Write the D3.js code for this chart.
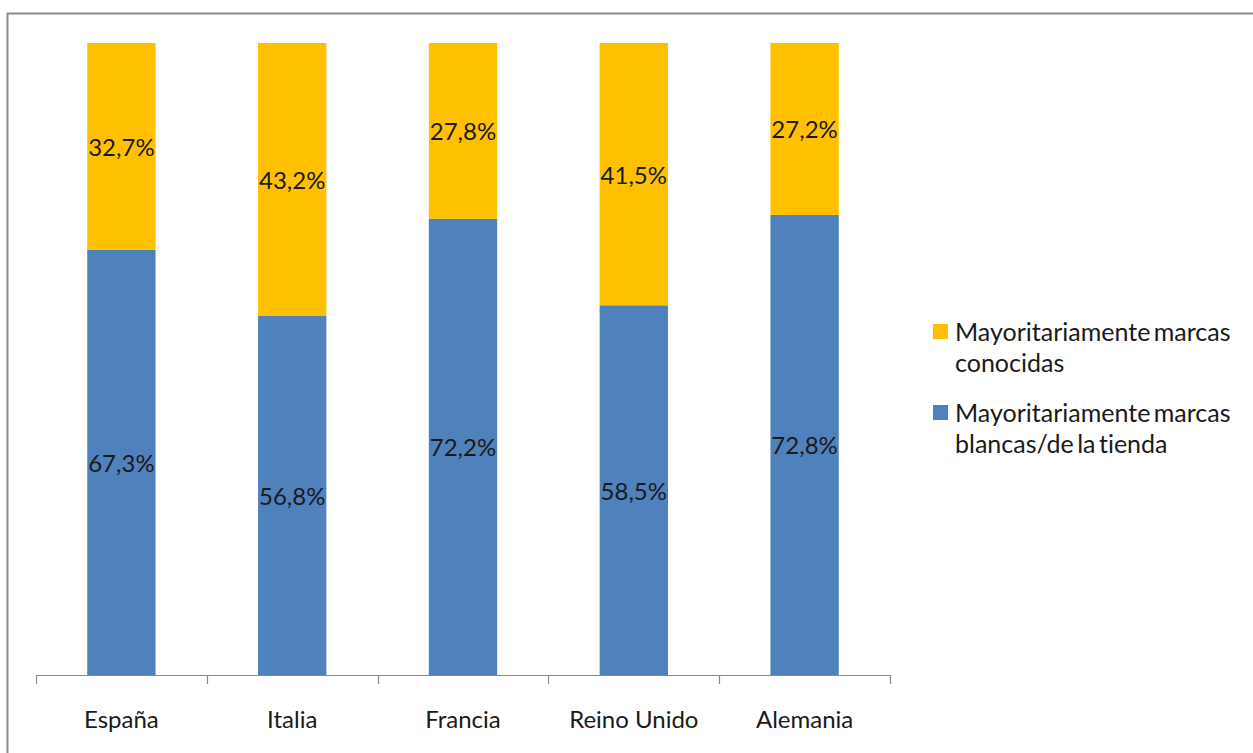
<!DOCTYPE html>
<html>
<head>
<meta charset="utf-8">
<script src="https://cdn.jsdelivr.net/npm/d3@7"></script>
<style>
  html, body { margin: 0; padding: 0; background: #fff; }
  svg { display: block; }
  text { font-family: Lato, "Open Sans", sans-serif; fill: #1a1a1a; font-variant-ligatures: none; }
</style>
</head>
<body>
<svg id="chart" width="1253" height="753"></svg>
<script>
// Share of shoppers by country, stacked to 100%
const countries = ["España", "Italia", "Francia", "Reino Unido", "Alemania"];
const blancas   = [67.3, 56.8, 72.2, 58.5, 72.8];   // store / private labels
const conocidas = [32.7, 43.2, 27.8, 41.5, 27.2];   // known brands
const legendLines = [
  ["Mayoritariamente marcas", "conocidas"],
  ["Mayoritariamente marcas", "blancas/de la tienda"]
];
const colors = { blancas: "#4f81bd", conocidas: "#ffc000" };

const svg = d3.select("#chart");

// outer frame (only top and left edges fall inside the canvas)
svg.append("rect")
  .attr("x", 7.5).attr("y", 13.5)
  .attr("width", 1300).attr("height", 800)
  .attr("fill", "none").attr("stroke", "#8a8a8a").attr("stroke-width", 2);

const plot = { left: 36, right: 890, top: 43, bottom: 675 };

const x = d3.scaleBand().domain(countries)
  .range([plot.left, plot.right]).paddingInner(0.6).paddingOuter(0.3);
const y = d3.scaleLinear().domain([0, 100]).range([plot.bottom, plot.top]);

const rows = countries.map((c, i) => ({ country: c, blancas: blancas[i], conocidas: conocidas[i] }));
const stack = d3.stack().keys(["blancas", "conocidas"]);
const layers = stack(rows);

const fmt = v => v.toFixed(1).replace(".", ",") + "%";

layers.forEach(layer => {
  const g = svg.append("g");
  g.selectAll("rect").data(layer).join("rect")
    .attr("x", d => x(d.data.country))
    .attr("y", d => y(d[1]))
    .attr("width", x.bandwidth())
    .attr("height", d => y(d[0]) - y(d[1]))
    .attr("fill", colors[layer.key]);
  g.selectAll("text").data(layer).join("text")
    .attr("x", d => x(d.data.country) + x.bandwidth() / 2)
    .attr("y", d => (y(d[0]) + y(d[1])) / 2)
    .attr("text-anchor", "middle")
    .attr("dominant-baseline", "central")
    .attr("font-size", 24)
    .text(d => fmt(d.data[layer.key]));
});

// category axis with ticks between categories
const tickPos = d3.range(countries.length + 1).map(i => plot.left + i * (plot.right - plot.left) / countries.length);
const axis = svg.append("g");
axis.append("line")
  .attr("x1", plot.left).attr("x2", plot.right)
  .attr("y1", plot.bottom + 0.5).attr("y2", plot.bottom + 0.5)
  .attr("stroke", "#888").attr("stroke-width", 1.2);
axis.selectAll("line.tick").data(tickPos).join("line")
  .attr("class", "tick")
  .attr("x1", d => Math.round(d) + 0.5).attr("x2", d => Math.round(d) + 0.5)
  .attr("y1", plot.bottom).attr("y2", plot.bottom + 9)
  .attr("stroke", "#888").attr("stroke-width", 1.2);
axis.selectAll("text").data(countries).join("text")
  .attr("x", d => x(d) + x.bandwidth() / 2)
  .attr("y", 718)
  .attr("text-anchor", "middle")
  .attr("dominant-baseline", "central")
  .attr("font-size", 24)
  .text(d => d);

// legend
const legend = svg.append("g");
const legendItems = [
  { color: colors.conocidas, lines: legendLines[0], y: 331 },
  { color: colors.blancas, lines: legendLines[1], y: 412 }
];
legendItems.forEach(item => {
  legend.append("rect")
    .attr("x", 933).attr("y", item.y - 7)
    .attr("width", 15).attr("height", 15)
    .attr("fill", item.color);
  item.lines.forEach((ln, j) => {
    legend.append("text")
      .attr("x", 955).attr("y", item.y + j * 31)
      .attr("dominant-baseline", "central")
      .attr("font-size", 25)
      .attr("word-spacing", -3)
      .text(ln);
  });
});
</script>
</body>
</html>
